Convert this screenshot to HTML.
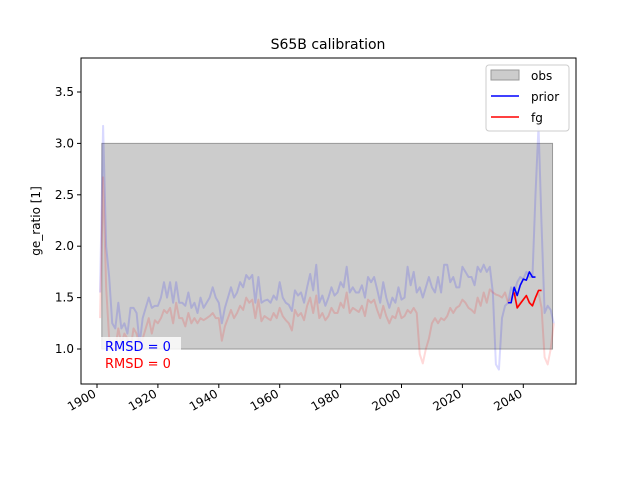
<!DOCTYPE html>
<html><head><meta charset="utf-8"><style>
body{margin:0;background:#fff;font-family:"Liberation Sans","DejaVu Sans",sans-serif}
svg text{font-family:"DejaVu Sans","Liberation Sans",sans-serif}
</style></head><body>
<svg id="c" width="640" height="480"></svg>
<script>
const years=[];for(let y=1901;y<=2050;y++)years.push(y);
const blueBg=[1.55,3.17,2.0,1.7,1.25,1.2,1.45,1.2,1.25,1.15,1.4,1.4,1.35,1.05,1.3,1.4,1.5,1.4,1.42,1.42,1.5,1.65,1.5,1.65,1.45,1.65,1.45,1.45,1.42,1.55,1.4,1.45,1.35,1.5,1.4,1.45,1.5,1.6,1.5,1.45,1.25,1.4,1.5,1.6,1.5,1.55,1.65,1.6,1.72,1.68,1.72,1.45,1.7,1.45,1.47,1.48,1.45,1.52,1.48,1.65,1.5,1.45,1.43,1.37,1.57,1.52,1.55,1.45,1.6,1.73,1.57,1.82,1.45,1.52,1.42,1.5,1.6,1.52,1.55,1.65,1.6,1.8,1.55,1.6,1.55,1.55,1.62,1.5,1.7,1.65,1.7,1.58,1.45,1.65,1.5,1.4,1.5,1.45,1.6,1.48,1.5,1.8,1.62,1.75,1.55,1.6,1.5,1.6,1.7,1.6,1.55,1.7,1.55,1.82,1.82,1.65,1.7,1.6,1.6,1.8,1.75,1.7,1.7,1.62,1.8,1.75,1.82,1.75,1.8,1.55,0.85,0.8,1.3,1.42,1.45,1.6,1.55,1.65,1.7,1.68,1.75,1.7,1.7,2.5,3.17,2.2,1.35,1.42,1.38,1.25];
const redBg=[1.3,2.67,1.6,1.1,1.0,1.0,1.2,1.05,1.15,1.1,1.0,1.2,1.15,1.0,1.1,1.2,1.3,1.15,1.28,1.25,1.3,1.38,1.35,1.4,1.25,1.45,1.3,1.3,1.22,1.35,1.25,1.3,1.25,1.3,1.28,1.3,1.32,1.35,1.3,1.3,1.08,1.22,1.3,1.38,1.3,1.35,1.42,1.38,1.5,1.45,1.48,1.3,1.48,1.27,1.32,1.3,1.28,1.35,1.3,1.4,1.32,1.28,1.25,1.18,1.38,1.32,1.35,1.28,1.42,1.5,1.35,1.52,1.3,1.35,1.28,1.32,1.4,1.35,1.35,1.45,1.4,1.55,1.35,1.4,1.38,1.36,1.42,1.32,1.48,1.45,1.48,1.38,1.3,1.42,1.32,1.25,1.32,1.3,1.4,1.3,1.32,1.38,1.35,1.4,1.35,0.95,0.86,1.0,1.1,1.25,1.3,1.25,1.3,1.28,1.32,1.4,1.35,1.4,1.42,1.48,1.45,1.4,1.38,1.35,1.5,1.42,1.55,1.45,1.58,1.55,1.53,1.52,1.5,1.55,1.45,1.5,1.55,1.4,1.45,1.48,1.52,1.45,1.42,1.5,1.55,1.4,0.92,0.85,1.0,1.25];
const priorYears=[2035,2036,2037,2038,2039,2040,2041,2042,2043,2044];
const priorVals=[1.45,1.45,1.6,1.52,1.62,1.68,1.67,1.75,1.7,1.7];
const fgYears=[2037,2038,2039,2040,2041,2042,2043,2044,2045,2046];
const fgVals=[1.55,1.4,1.44,1.48,1.52,1.45,1.42,1.5,1.57,1.57];
const xTicks=[1900,1920,1940,1960,1980,2000,2020,2040];
const yTicks=[1.0,1.5,2.0,2.5,3.0,3.5];
const obsLo=1.0,obsHi=3.0,obsStart=1901.6,obsEnd=2049.6;
const L=81,R=576,T=58,B=384;
const X=v=>97+(v-1900)*60.9/20;
const Y=v=>349-(v-1)*102.8;
const s=document.getElementById('c'),NS='http://www.w3.org/2000/svg';
function mk(t,a,p){const e=document.createElementNS(NS,t);for(const k in a)e.setAttribute(k,a[k]);(p||s).appendChild(e);return e;}
const clip=mk('clipPath',{id:'cl'});mk('rect',{x:L,y:T,width:R-L,height:B-T},clip);
let e=mk('rect',{x:X(obsStart),y:Y(obsHi),width:X(obsEnd)-X(obsStart),height:Y(obsLo)-Y(obsHi),fill:'#cccccc',stroke:'#999',"stroke-width":1,'clip-path':'url(#cl)'});

function line(xs,ys,col,op,w,name){const p=mk('polyline',{points:xs.map((x,i)=>X(x)+','+Y(ys[i])).join(' '),fill:'none',stroke:col,'stroke-opacity':op,'stroke-width':w,'clip-path':'url(#cl)','stroke-linejoin':'round'});
}
line(years,blueBg,'#0000ff',0.15,2,'prior-ensemble-faint');
line(years,redBg,'#ff0000',0.15,2,'fg-ensemble-faint');
line(priorYears,priorVals,'#0000ff',1,1.6,'prior-line');
line(fgYears,fgVals,'#ff0000',1,1.6,'fg-line');
e=mk('rect',{x:L,y:T,width:R-L,height:B-T,fill:'none',stroke:'#000','stroke-width':1});

xTicks.forEach(v=>{const x=X(v);mk('line',{x1:x,x2:x,y1:B,y2:B+4,stroke:'#000'});
const t=mk('text',{x:x,y:B+12,'font-size':12,'text-anchor':'end',transform:`rotate(-30 ${x} ${B+12})`});t.textContent=v;
});
yTicks.forEach(v=>{const y=Y(v);mk('line',{x1:L-4,x2:L,y1:y,y2:y,stroke:'#000'});
const t=mk('text',{x:L-7,y:y+4,'font-size':12,'text-anchor':'end'});t.textContent=v.toFixed(1);
});
</script>
<svg style="position:absolute;left:0;top:0" width="640" height="480">
<text x="328" y="49" font-size="14" text-anchor="middle">S65B calibration</text>
<text transform="translate(40 221) rotate(-90)" font-size="12" text-anchor="middle">ge_ratio [1]</text>
<rect x="101" y="337" width="80" height="18" fill="#fff" fill-opacity="0.8"/>
<text x="105" y="351" font-size="13" fill="#0000ff">RMSD = 0</text>
<text x="105" y="368" font-size="13" fill="#ff0000">RMSD = 0</text>
<g>
<rect x="486" y="65" width="83" height="66" rx="3" fill="#fff" fill-opacity="0.85" stroke="#ccc"/>
<rect x="491" y="70" width="28" height="10" fill="#ccc" stroke="#999"/>
<text x="531" y="80" font-size="12">obs</text>
<line x1="491" y1="96" x2="519" y2="96" stroke="#0000ff" stroke-width="1.6"/>
<text x="531" y="101" font-size="12">prior</text>
<line x1="491" y1="117" x2="519" y2="117" stroke="#ff0000" stroke-width="1.6"/>
<text x="531" y="122" font-size="12">fg</text>
</g>
</svg>
</body></html>
